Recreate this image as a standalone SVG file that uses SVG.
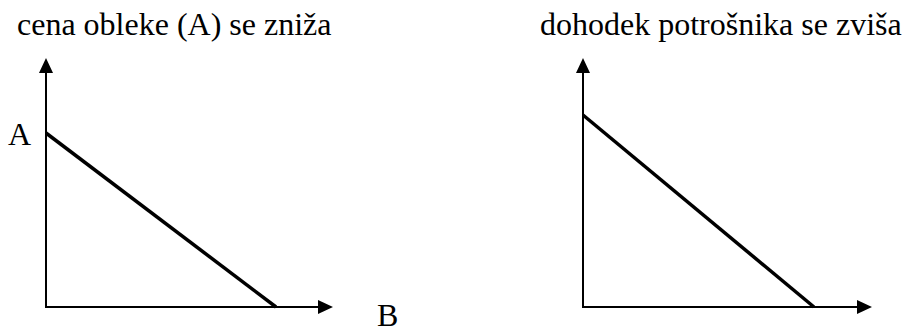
<svg xmlns="http://www.w3.org/2000/svg" width="907" height="333" viewBox="0 0 907 333">
<style>
text{font-family:"Liberation Serif","Times New Roman","DejaVu Serif",serif;font-size:32px;fill:#000}
.ax{stroke:#000;stroke-width:2;fill:none}
.bl{stroke:#000;stroke-width:3.5;fill:none}
.ah{fill:#000}
</style>
<rect width="907" height="333" fill="#fff"/>
<g id="chart1">
<text x="17" y="35" font-family="Liberation Serif, serif">cena obleke (A) se zniža</text>
<text x="8" y="145" font-family="Liberation Serif, serif">A</text>
<text x="377" y="326" font-family="Liberation Serif, serif">B</text>
</g>
<g id="chart2">
<text x="540" y="35" font-family="Liberation Serif, serif">dohodek potrošnika se zviša</text>
</g>
<g id="connectors">
<path class="ax" d="M46,70 V307 H320"/>
<polygon class="ah" points="46,58 39,73 53,73"/>
<polygon class="ah" points="333,307 318,300 318,314"/>
<path class="bl" d="M46,133 L276,307"/>
<path class="ax" d="M583,70 V307 H858"/>
<polygon class="ah" points="583,58 576,73 590,73"/>
<polygon class="ah" points="872,307 857,300 857,314"/>
<path class="bl" d="M583,115 L814,307"/>
</g>
</svg>
